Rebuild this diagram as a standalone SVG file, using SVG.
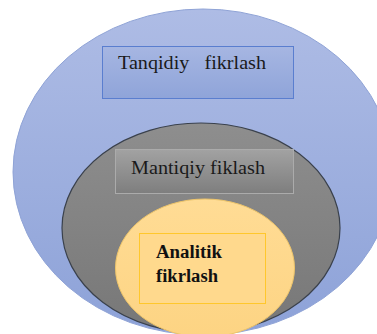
<svg xmlns="http://www.w3.org/2000/svg" width="377" height="334" viewBox="0 0 377 334">
<defs>
<linearGradient id="gBlue" x1="0" y1="0" x2="0" y2="1"><stop offset="0" stop-color="#AEBCE5"/><stop offset="1" stop-color="#8DA2D8"/></linearGradient>
<linearGradient id="gBlueBox" x1="0" y1="0" x2="0" y2="1"><stop offset="0" stop-color="#A6B6E2"/><stop offset="1" stop-color="#8FA4D9"/></linearGradient>
<linearGradient id="gGray" x1="0" y1="0" x2="0" y2="1"><stop offset="0" stop-color="#8E8E8E"/><stop offset="1" stop-color="#777777"/></linearGradient>
<linearGradient id="gGrayBox" x1="0" y1="0" x2="0" y2="1"><stop offset="0" stop-color="#A2A2A2"/><stop offset="1" stop-color="#7E7E7E"/></linearGradient>
<linearGradient id="gYellow" x1="0" y1="0" x2="0" y2="1"><stop offset="0" stop-color="#FFDC95"/><stop offset="1" stop-color="#FDD483"/></linearGradient>
</defs>
<style>
text{font-family:'Liberation Serif','Times New Roman',serif;font-size:18.5px;fill:#1a1a1a;white-space:pre}
.b{font-weight:bold;fill:#111;font-size:18px}
</style>
<rect width="377" height="334" fill="#ffffff"/>
<g id="outer">
<ellipse cx="203" cy="172" rx="190" ry="163" fill="url(#gBlue)" stroke="#8FA3D6" stroke-width="1"/>
<g id="tanqidiy">
<rect x="102.5" y="46.5" width="191" height="52" fill="url(#gBlueBox)" stroke="#5A7ECF" stroke-width="1"/>
<text x="118" y="69" textLength="148" lengthAdjust="spacingAndGlyphs" xml:space="preserve">Tanqidiy   fikrlash</text>
</g>
</g>
<g id="middle">
<ellipse cx="201" cy="228" rx="139" ry="105" fill="url(#gGray)" stroke="#3A414C" stroke-width="1.2"/>
<g id="mantiqiy">
<rect x="115.5" y="149.5" width="178" height="44" fill="url(#gGrayBox)" stroke="#ABABAB" stroke-width="1"/>
<text x="131" y="174" textLength="134" lengthAdjust="spacingAndGlyphs">Mantiqiy fiklash</text>
</g>
</g>
<g id="inner">
<ellipse cx="205" cy="268" rx="89.5" ry="69" fill="url(#gYellow)" stroke="#EDC46A" stroke-width="1"/>
<g id="analitik">
<rect x="139.5" y="233.5" width="126" height="70" fill="#FFD98D" stroke="#FFC72C" stroke-width="1"/>
<text class="b" x="156" y="258" textLength="66" lengthAdjust="spacingAndGlyphs">Analitik</text>
<text class="b" x="156" y="282" textLength="62" lengthAdjust="spacingAndGlyphs">fikrlash</text>
</g>
</g>
<g id="connectors"/>
</svg>
